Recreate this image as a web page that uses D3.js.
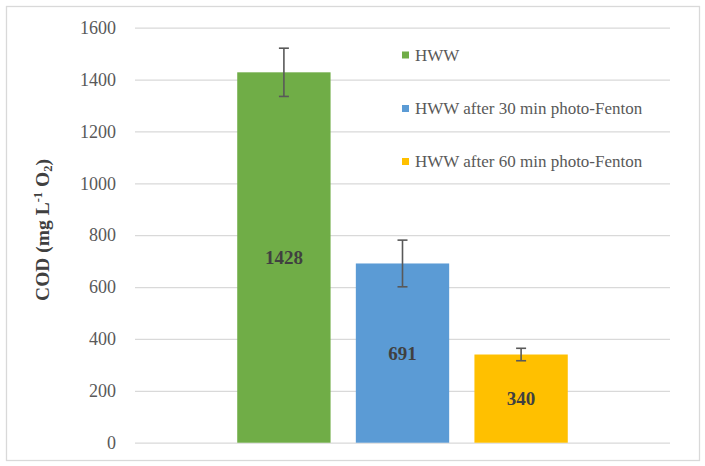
<!DOCTYPE html>
<html>
<head>
<meta charset="utf-8">
<script src="https://cdn.jsdelivr.net/npm/d3@7"></script>
<style>
  body { margin: 0; background: #fff; }
  text { font-family: 'Liberation Serif', 'Times New Roman', serif; }
</style>
</head>
<body>
<script>
// data
const series = ['HWW', 'HWW after 30 min photo-Fenton', 'HWW after 60 min photo-Fenton']
const values = [1428, 691, 340]
const errors = [93, 90, 24]
const yTicks = [0, 200, 400, 600, 800, 1000, 1200, 1400, 1600]
const colors = ['#70AD47', '#5B9BD5', '#FFC000']

const width = 705
const height = 466

const svg = d3.select('body').append('svg')
  .attr('width', width)
  .attr('height', height)

// outer chart border
svg.append('rect')
  .attr('x', 6.5)
  .attr('y', 6.5)
  .attr('width', 693)
  .attr('height', 454)
  .attr('fill', '#fff')
  .attr('stroke', '#d9d9d9')
  .attr('stroke-width', 1.3)

const plot = {left: 135, right: 670, top: 27.7, bottom: 442.7}

const yScale = d3.scaleLinear()
  .domain([0, 1600])
  .range([plot.bottom, plot.top])

const xScale = d3.scaleBand()
  .domain(series)
  .range([plot.left, plot.right])
  .paddingInner(0.213)
  .paddingOuter(0.862)

// gridlines + tick labels
const yAxis = d3.axisLeft(yScale)
  .tickValues(yTicks)
  .tickSize(-(plot.right - plot.left))
  .tickPadding(19)
  .tickFormat(d3.format('d'))

const gAxis = svg.append('g')
  .attr('transform', `translate(${plot.left}, 0)`)
  .call(yAxis)

gAxis.select('.domain').remove()
gAxis.selectAll('.tick line')
  .attr('stroke', '#d9d9d9')
  .attr('stroke-width', 1.3)
gAxis.selectAll('.tick text')
  .attr('fill', '#595959')
  .style('font-family', "'Liberation Serif', serif")
  .style('font-size', '18px')

// bars
svg.append('g').selectAll('rect')
  .data(values)
  .enter()
  .append('rect')
  .attr('x', (d, i) => xScale(series[i]))
  .attr('y', d => yScale(d))
  .attr('width', xScale.bandwidth())
  .attr('height', d => yScale(0) - yScale(d))
  .attr('fill', (d, i) => colors[i])

// error bars
const eb = svg.append('g')
  .attr('stroke', '#595959')
  .attr('stroke-width', 1.6)

values.forEach((v, i) => {
  const cx = xScale(series[i]) + xScale.bandwidth() / 2
  const hi = yScale(v + errors[i])
  const lo = yScale(v - errors[i])
  eb.append('line').attr('x1', cx).attr('x2', cx).attr('y1', hi).attr('y2', lo)
  eb.append('line').attr('x1', cx - 5).attr('x2', cx + 5).attr('y1', hi).attr('y2', hi)
  eb.append('line').attr('x1', cx - 5).attr('x2', cx + 5).attr('y1', lo).attr('y2', lo)
})

// data labels in the middle of each bar
svg.append('g').selectAll('text')
  .data(values)
  .enter()
  .append('text')
  .attr('x', (d, i) => xScale(series[i]) + xScale.bandwidth() / 2)
  .attr('y', d => yScale(d / 2))
  .attr('dy', '0.35em')
  .attr('text-anchor', 'middle')
  .attr('fill', '#404040')
  .style('font-size', '19px')
  .style('font-weight', 'bold')
  .text(d => d)

// y axis title
const yTitle = svg.append('text')
  .attr('transform', 'translate(49, 230) rotate(-90)')
  .attr('text-anchor', 'middle')
  .attr('fill', '#404040')
  .style('font-size', '19.5px')
  .style('font-weight', 'bold')
yTitle.append('tspan').text('COD (mg L')
yTitle.append('tspan').attr('dy', -7).style('font-size', '12.5px').text('-1')
yTitle.append('tspan').attr('dy', 7).text(' O')
yTitle.append('tspan').attr('dy', 3).style('font-size', '12.5px').text('2')
yTitle.append('tspan').attr('dy', -3).text(')')

// legend
const legendY = [55, 108.5, 161.5]
const legend = svg.append('g').selectAll('g')
  .data(series)
  .enter()
  .append('g')
  .attr('transform', (d, i) => `translate(402, ${legendY[i]})`)

legend.append('rect')
  .attr('x', 0)
  .attr('y', -3.5)
  .attr('width', 7)
  .attr('height', 7)
  .attr('fill', (d, i) => colors[i])

legend.append('text')
  .attr('x', 13)
  .attr('dy', '0.35em')
  .attr('fill', '#595959')
  .style('font-size', '17px')
  .text(d => d)
</script>
</body>
</html>
